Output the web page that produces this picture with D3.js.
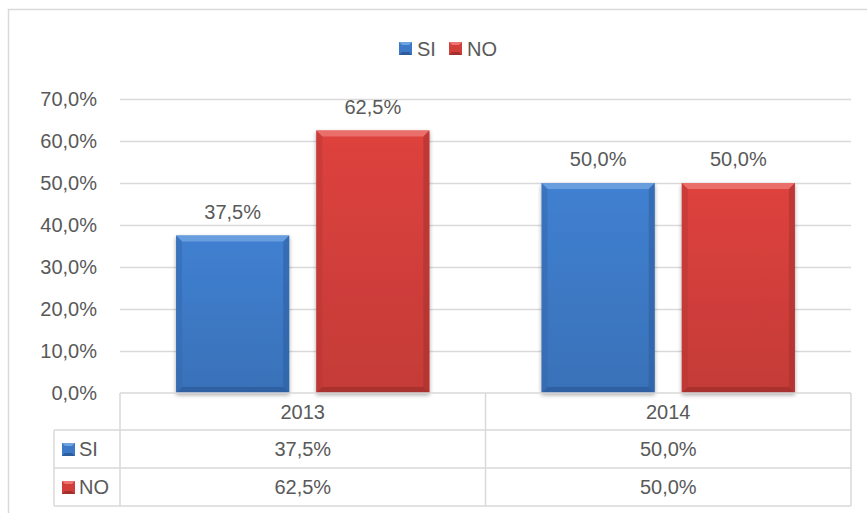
<!DOCTYPE html>
<html>
<head>
<meta charset="utf-8">
<script src="https://cdn.jsdelivr.net/npm/d3@7"></script>
<style>
  html, body { margin: 0; padding: 0; background: #fff; }
  svg { display: block; font-family: "Liberation Sans", "Open Sans", sans-serif; }
</style>
</head>
<body>
<svg id="chart" width="867" height="513"></svg>
<script>
const categories = ["2013", "2014"];
const seriesNames = ["SI", "NO"];
const siValues = [0.375, 0.50];
const noValues = [0.625, 0.50];
const yTicks = [0, 0.1, 0.2, 0.3, 0.4, 0.5, 0.6, 0.7];

const series = [
  { name: seriesNames[0], values: siValues },
  { name: seriesNames[1], values: noValues }
];

const colors = {
  SI: { main: "#3D79C6", light: "#6FA2E0", dark: "#2C5C9C", side: "#3467AD" },
  NO: { main: "#D23F3B", light: "#EC7572", dark: "#A3302D", side: "#B83633" }
};

const W = 867, H = 513;
const svg = d3.select("#chart");
const textColor = "#595959";
const lineColor = "#d9d9d9";
const fmt = v => d3.format(".1%")(v).replace(".", ",");

const plot = { left: 120, right: 851, top: 99, bottom: 393 };
const y = d3.scaleLinear().domain([0, 0.7]).range([plot.bottom, plot.top]);
const x0 = d3.scaleBand().domain(categories).range([plot.left, plot.right]).paddingInner(0).paddingOuter(0);
const x1 = d3.scaleBand().domain(seriesNames).range([0, x0.bandwidth()]).paddingInner(0.193).paddingOuter(0.4);

// defs
const defs = svg.append("defs");
Object.entries(colors).forEach(([k, c]) => {
  const g = defs.append("linearGradient").attr("id", "grad" + k).attr("x1", 0).attr("x2", 0).attr("y1", 0).attr("y2", 1);
  g.append("stop").attr("offset", "0%").attr("stop-color", d3.color(c.main).brighter(0.15));
  g.append("stop").attr("offset", "100%").attr("stop-color", d3.color(c.main).darker(0.2));
});
const f = defs.append("filter").attr("id", "shadow").attr("x", "-10%").attr("y", "-10%").attr("width", "120%").attr("height", "120%");
f.append("feGaussianBlur").attr("in", "SourceAlpha").attr("stdDeviation", 2);
f.append("feOffset").attr("dx", 0).attr("dy", 2).attr("result", "ob");
f.append("feComponentTransfer").append("feFuncA").attr("type", "linear").attr("slope", 0.35);
const fm = f.append("feMerge");
fm.append("feMergeNode");
fm.append("feMergeNode").attr("in", "SourceGraphic");

// outer border (cropped)
svg.append("path")
  .attr("d", `M8.5,${H + 2} V9.5 H${W + 2}`)
  .attr("fill", "none").attr("stroke", lineColor).attr("stroke-width", 1.5);

// legend top
const legend = svg.append("g");
const legendItems = [{ name: "SI", kx: 399, tx: 417 }, { name: "NO", kx: 449, tx: 467 }];
function bevelKey(g, xk, yk, s, c) {
  g.append("rect").attr("x", xk).attr("y", yk).attr("width", s).attr("height", s).attr("fill", c.main);
  const b = 3;
  g.append("polygon").attr("points", [[xk, yk], [xk + s, yk], [xk + s - b, yk + b], [xk + b, yk + b]].join(" ")).attr("fill", c.light);
  g.append("polygon").attr("points", [[xk, yk + s], [xk + s, yk + s], [xk + s - b, yk + s - b], [xk + b, yk + s - b]].join(" ")).attr("fill", c.dark);
}
legendItems.forEach(d => {
  bevelKey(legend, d.kx, 42, 13, colors[d.name]);
  legend.append("text").attr("x", d.tx).attr("y", 48.5).attr("dy", "0.35em")
    .attr("fill", textColor).attr("font-size", 20).text(d.name);
});

// gridlines
svg.append("g").selectAll("line").data(yTicks.slice(1)).join("line")
  .attr("x1", plot.left).attr("x2", plot.right)
  .attr("y1", d => Math.round(y(d)) + 0.5).attr("y2", d => Math.round(y(d)) + 0.5)
  .attr("stroke", lineColor).attr("stroke-width", 1.5);

// y axis via d3.axisLeft
const yAxis = svg.append("g").attr("transform", `translate(${plot.left},0)`)
  .call(d3.axisLeft(y).tickValues(yTicks).tickFormat(fmt).tickSize(0).tickPadding(23));
yAxis.select(".domain").remove();
yAxis.selectAll("text").attr("fill", textColor).attr("font-size", 20)
  .attr("font-family", "Liberation Sans, Open Sans, sans-serif");

// bars
const bev = 6;
categories.forEach((cat, ci) => {
  series.forEach(s => {
    const v = s.values[ci];
    const bx = x0(cat) + x1(s.name);
    const bw = x1.bandwidth();
    const by = y(v);
    const bh = y(0) - by;
    const c = colors[s.name];
    const g = svg.append("g").attr("filter", "url(#shadow)");
    g.append("rect").attr("x", bx).attr("y", by).attr("width", bw).attr("height", bh).attr("fill", `url(#grad${s.name})`);
    const x2 = bx + bw, y2 = by + bh;
    g.append("polygon").attr("points", [[bx, by], [x2, by], [x2 - bev, by + bev], [bx + bev, by + bev]].join(" ")).attr("fill", c.light).attr("opacity", 0.85);
    g.append("polygon").attr("points", [[bx, by], [bx + bev, by + bev], [bx + bev, y2 - bev], [bx, y2]].join(" ")).attr("fill", c.side).attr("opacity", 0.5);
    g.append("polygon").attr("points", [[x2, by], [x2 - bev, by + bev], [x2 - bev, y2 - bev], [x2, y2]].join(" ")).attr("fill", c.dark).attr("opacity", 0.5);
    g.append("polygon").attr("points", [[bx, y2], [x2, y2], [x2 - bev, y2 - bev], [bx + bev, y2 - bev]].join(" ")).attr("fill", c.dark).attr("opacity", 0.8);
    svg.append("text").attr("x", bx + bw / 2).attr("y", by - 17)
      .attr("text-anchor", "middle").attr("fill", textColor).attr("font-size", 20).text(fmt(v));
  });
});

// data table
const rows = [plot.bottom, 430, 468, 506];
const tableLeft = 54;
const tbl = svg.append("g").attr("stroke", lineColor).attr("stroke-width", 1.5).attr("fill", "none");
tbl.append("line").attr("x1", plot.left).attr("x2", plot.right).attr("y1", rows[0]).attr("y2", rows[0]);
tbl.append("line").attr("x1", tableLeft).attr("x2", plot.right).attr("y1", rows[1]).attr("y2", rows[1]);
tbl.append("line").attr("x1", tableLeft).attr("x2", plot.right).attr("y1", rows[2]).attr("y2", rows[2]);
tbl.append("line").attr("x1", tableLeft).attr("x2", plot.right).attr("y1", rows[3]).attr("y2", rows[3]);
tbl.append("line").attr("x1", tableLeft).attr("x2", tableLeft).attr("y1", rows[1]).attr("y2", rows[3]);
tbl.append("line").attr("x1", plot.left).attr("x2", plot.left).attr("y1", rows[0]).attr("y2", rows[3]);
categories.forEach(cat => {
  const xe = x0(cat) + x0.bandwidth();
  tbl.append("line").attr("x1", xe).attr("x2", xe).attr("y1", rows[0]).attr("y2", rows[3]);
});

const tt = svg.append("g").attr("fill", textColor).attr("font-size", 20).attr("text-anchor", "middle");
categories.forEach((cat, ci) => {
  const cx = x0(cat) + x0.bandwidth() / 2;
  tt.append("text").attr("x", cx).attr("y", (rows[0] + rows[1]) / 2).attr("dy", "0.35em").text(cat);
  series.forEach((s, si) => {
    tt.append("text").attr("x", cx).attr("y", (rows[si + 1] + rows[si + 2]) / 2).attr("dy", "0.35em").text(fmt(s.values[ci]));
  });
});
series.forEach((s, si) => {
  const cy = (rows[si + 1] + rows[si + 2]) / 2;
  bevelKey(svg, 62, cy - 6, 13, colors[s.name]);
  svg.append("text").attr("x", 79).attr("y", cy).attr("dy", "0.35em")
    .attr("fill", textColor).attr("font-size", 20).text(s.name);
});
</script>
</body>
</html>
